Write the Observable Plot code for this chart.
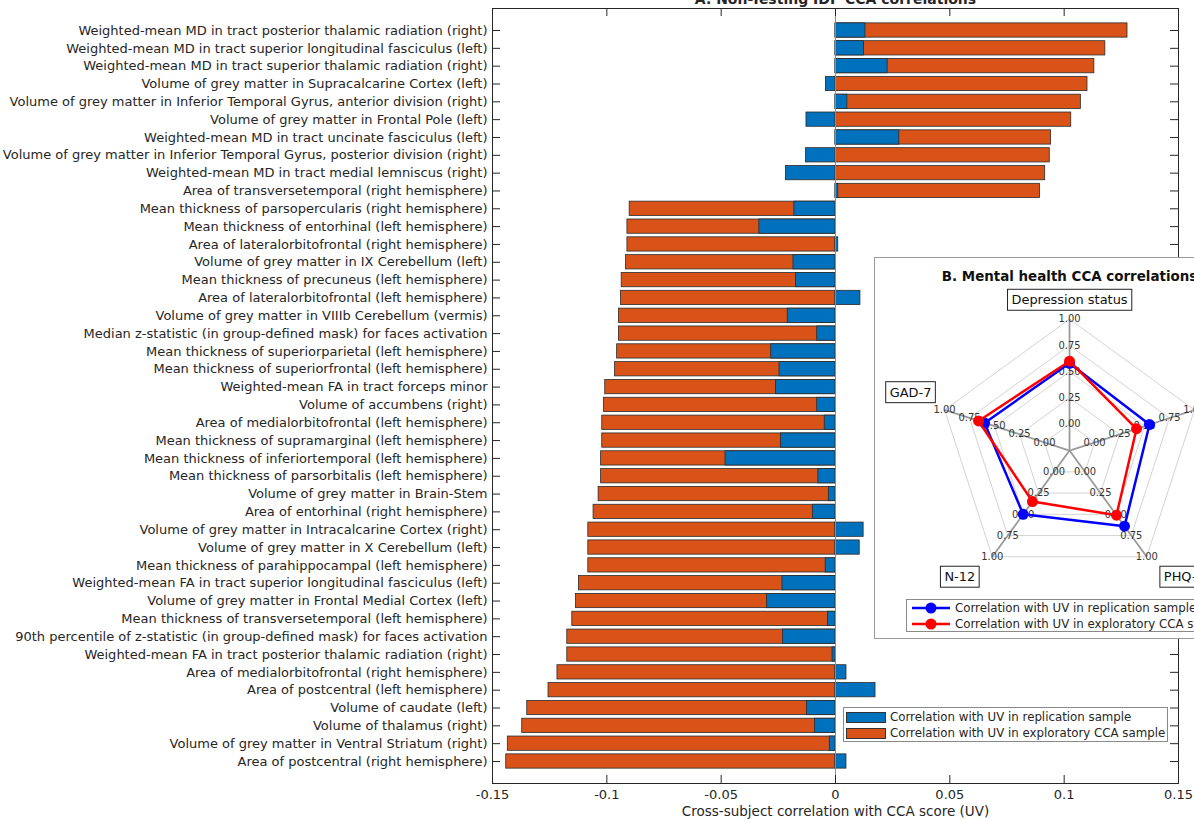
<!DOCTYPE html>
<html>
<head>
<meta charset="utf-8">
<script src="https://cdn.jsdelivr.net/npm/d3@7"></script>
<script src="https://cdn.jsdelivr.net/npm/@observablehq/plot@0.6"></script>
<style>
  html, body { margin: 0; padding: 0; background: #fff; overflow: hidden; }
  #wrap { position: relative; width: 1194px; height: 820px; overflow: hidden; font-family: "DejaVu Sans", sans-serif; color: #262626; }
  #main { position: absolute; left: 0; top: 0; }
  .legend { position: absolute; background: #fff; border: 1px solid #8a8a8a; font-size: 11.8px; line-height: 16px; white-space: nowrap; }
  .legend .row { display: flex; align-items: center; height: 16px; }
  .legend .sw { display: inline-block; margin-right: 4px; flex: none; }
  #legA { left: 843px; top: 707px; width: 325px; height: 35px; box-sizing: border-box; padding: 1px 0 0 2px; }
  #legA .sw { width: 40px; height: 11px; border: 1px solid #333; box-sizing: border-box; margin-right: 4px; }
  #inset { position: absolute; left: 874px; top: 257px; width: 400px; height: 382px; border: 1px solid #9a9a9a; background: #fff; box-sizing: border-box; }
  #radar { position: absolute; left: 0; top: 0; }
  #legB { left: 31px; top: 341px; width: 330px; height: 33px; box-sizing: border-box; padding: 0 0 0 4px; }
</style>
</head>
<body>
<div id="wrap">
  <div id="main"></div>
  <div class="legend" id="legA"></div>
  <div id="inset">
    <div id="radar"></div>
    <div class="legend" id="legB"></div>
  </div>
</div>
<script>
// ---------------- DATA ----------------
const idpNames = [
  "Weighted-mean MD in tract posterior thalamic radiation (right)",
  "Weighted-mean MD in tract superior longitudinal fasciculus (left)",
  "Weighted-mean MD in tract superior thalamic radiation (right)",
  "Volume of grey matter in Supracalcarine Cortex (left)",
  "Volume of grey matter in Inferior Temporal Gyrus, anterior division (right)",
  "Volume of grey matter in Frontal Pole (left)",
  "Weighted-mean MD in tract uncinate fasciculus (left)",
  "Volume of grey matter in Inferior Temporal Gyrus, posterior division (right)",
  "Weighted-mean MD in tract medial lemniscus (right)",
  "Area of transversetemporal (right hemisphere)",
  "Mean thickness of parsopercularis (right hemisphere)",
  "Mean thickness of entorhinal (left hemisphere)",
  "Area of lateralorbitofrontal (right hemisphere)",
  "Volume of grey matter in IX Cerebellum (left)",
  "Mean thickness of precuneus (left hemisphere)",
  "Area of lateralorbitofrontal (left hemisphere)",
  "Volume of grey matter in VIIIb Cerebellum (vermis)",
  "Median z-statistic (in group-defined mask) for faces activation",
  "Mean thickness of superiorparietal (left hemisphere)",
  "Mean thickness of superiorfrontal (left hemisphere)",
  "Weighted-mean FA in tract forceps minor",
  "Volume of accumbens (right)",
  "Area of medialorbitofrontal (left hemisphere)",
  "Mean thickness of supramarginal (left hemisphere)",
  "Mean thickness of inferiortemporal (left hemisphere)",
  "Mean thickness of parsorbitalis (left hemisphere)",
  "Volume of grey matter in Brain-Stem",
  "Area of entorhinal (right hemisphere)",
  "Volume of grey matter in Intracalcarine Cortex (right)",
  "Volume of grey matter in X Cerebellum (left)",
  "Mean thickness of parahippocampal (left hemisphere)",
  "Weighted-mean FA in tract superior longitudinal fasciculus (left)",
  "Volume of grey matter in Frontal Medial Cortex (left)",
  "Mean thickness of transversetemporal (left hemisphere)",
  "90th percentile of z-statistic (in group-defined mask) for faces activation",
  "Weighted-mean FA in tract posterior thalamic radiation (right)",
  "Area of medialorbitofrontal (right hemisphere)",
  "Area of postcentral (left hemisphere)",
  "Volume of caudate (left)",
  "Volume of thalamus (right)",
  "Volume of grey matter in Ventral Striatum (right)",
  "Area of postcentral (right hemisphere)"
];
// Correlation with UV in exploratory CCA sample
const exploratory = [
  0.1277, 0.1180, 0.1132, 0.1102, 0.1073, 0.1031, 0.0943, 0.0937, 0.0917, 0.0894,
  -0.0900, -0.0910, -0.0910, -0.0916, -0.0935, -0.0938, -0.0947, -0.0947, -0.0955, -0.0964,
  -0.1007, -0.1013, -0.1020, -0.1020, -0.1025, -0.1025, -0.1036, -0.1058, -0.1081, -0.1081,
  -0.1081, -0.1122, -0.1135, -0.1151, -0.1173, -0.1173, -0.1216, -0.1255, -0.1348, -0.1370,
  -0.1433, -0.1440
];
// Correlation with UV in replication sample
const replication = [
  0.0131, 0.0125, 0.0228, -0.0042, 0.0052, -0.0127, 0.0279, -0.0129, -0.0217, 0.0012,
  -0.0180, -0.0333, 0.0012, -0.0184, -0.0173, 0.0109, -0.0209, -0.0080, -0.0281, -0.0245,
  -0.0260, -0.0080, -0.0047, -0.0238, -0.0481, -0.0075, -0.0029, -0.0099, 0.0123, 0.0106,
  -0.0043, -0.0232, -0.0299, -0.0033, -0.0230, -0.0013, 0.0048, 0.0175, -0.0125, -0.0090,
  -0.0025, 0.0048
];
const xTicks = [-0.15, -0.1, -0.05, 0, 0.05, 0.1, 0.15];
const xTickLabels = ["-0.15", "-0.1", "-0.05", "0", "0.05", "0.1", "0.15"];

const radarAxes = ["Depression status", "RDS-4", "PHQ-9", "N-12", "GAD-7"];
const radarReplication = [0.58, 0.55, 0.64, 0.50, 0.60];
const radarExploratory = [0.60, 0.42, 0.51, 0.35, 0.66];
const radarTicks = [0, 0.25, 0.5, 0.75, 1];
const radarTickLabels = ["0.00", "0.25", "0.50", "0.75", "1.00"];

const seriesNames = ["Correlation with UV in replication sample", "Correlation with UV in exploratory CCA sample"];
const titleA = "A. Non-Testing IDP CCA correlations";
const titleB = "B. Mental health CCA correlations";
const xLabel = "Cross-subject correlation with CCA score (UV)";

// ---------------- STYLE ----------------
const BLUE = "#0072BD", ORANGE = "#D95319";
const RBLUE = "#0000FF", RRED = "#FF0000";
const FONT = '"DejaVu Sans", sans-serif';
const INK = "#262626";

// ---------------- CHART A ----------------
const rows = idpNames.map((name, i) => ({name, expl: exploratory[i], repl: replication[i]}));
const W = 1194, H = 820, mL = 492, mR = 16, mT = 8, mB = 37;
const fw = W - mL - mR, fh = H - mT - mB, tk = 8;

const chartA = Plot.plot({
  width: W, height: H,
  marginLeft: mL, marginRight: mR, marginTop: mT, marginBottom: mB,
  style: {fontFamily: FONT, fontSize: "13px", color: INK, background: "transparent"},
  x: {domain: [-0.15, 0.15]},
  y: {domain: idpNames, paddingInner: 0.2, paddingOuter: 0.834},
  marks: [
    Plot.barX(rows, {y: "name", x: "expl", fill: ORANGE, stroke: "#2b2b2b", strokeWidth: 0.8}),
    Plot.barX(rows, {y: "name", x: "repl", fill: BLUE, stroke: "#2b2b2b", strokeWidth: 0.8}),
    Plot.ruleX([0], {stroke: "#8c8c8c", strokeWidth: 1}),
    Plot.ruleX(xTicks, {insetTop: fh - tk, stroke: INK}),
    Plot.ruleX(xTicks, {insetBottom: fh - tk, stroke: INK}),
    Plot.tickY(idpNames, {y: d => d, insetRight: fw - tk, stroke: INK}),
    Plot.tickY(idpNames, {y: d => d, insetLeft: fw - tk, stroke: INK}),
    Plot.axisY({tickSize: 0, tickPadding: 5, label: null, fontSize: 13}),
    Plot.axisX({ticks: xTicks, tickSize: 0, tickPadding: 6, label: null, fontSize: 13,
      tickFormat: d => xTickLabels[xTicks.findIndex(t => Math.abs(t - d) < 1e-9)]}),
    Plot.frame({stroke: INK}),
    Plot.text([titleA], {frameAnchor: "top", dy: -9, lineAnchor: "middle", fontWeight: "bold", fontSize: 14}),
    Plot.text([xLabel], {frameAnchor: "bottom", dy: 32, fontSize: 13.5})
  ]
});
document.getElementById("main").appendChild(chartA);

// legend A
const legA = document.getElementById("legA");
[[BLUE, seriesNames[0]], [ORANGE, seriesNames[1]]].forEach(([c, t]) => {
  const r = document.createElement("div");
  r.className = "row";
  r.innerHTML = `<span class="sw" style="background:${c}"></span><span>${t}</span>`;
  legA.appendChild(r);
});

// ---------------- CHART B (radar) ----------------
const RW = 400, RH = 382;
const rad = d3.scaleLinear([0, 1], [26.5, 132]);
const ang = i => (90 - 72 * i) * Math.PI / 180;
const px = (i, v) => rad(v) * Math.cos(ang(i));
const py = (i, v) => rad(v) * Math.sin(ang(i));
const idx = radarAxes.map((_, i) => i);
const closed = [...idx, 0];
const ringPts = radarTicks.flatMap(t => closed.map(i => ({t, i})));
const tickPts = idx.flatMap(i => radarTicks.map((t, k) => ({i, t, k})));
const labR = 146;
const lx = i => labR * Math.cos(ang(i));
const ly = i => labR * Math.sin(ang(i));
const cosA = i => Math.cos(ang(i)), sinA = i => Math.sin(ang(i));
const hAnchor = i => cosA(i) < -0.3 ? "end" : cosA(i) > 0.3 ? "start" : "middle";
const vAnchor = i => sinA(i) > 0.3 ? "bottom" : sinA(i) < -0.3 ? "top" : "middle";
// small nudges mimicking the original label placement
const ldx = i => sinA(i) < -0.3 ? Math.sign(cosA(i)) * 9 : 0;
const ldy = i => sinA(i) < -0.3 ? 4 : (Math.abs(cosA(i)) > 0.3 ? -9 : -1);

const chartB = Plot.plot({
  width: RW, height: RH, margin: 0,
  style: {fontFamily: FONT, color: INK, background: "transparent"},
  x: {domain: [-195, 205], axis: null},
  y: {domain: [-189, 193], axis: null},
  marks: [
    Plot.line(ringPts, {x: d => px(d.i, d.t), y: d => py(d.i, d.t), z: "t", stroke: "#c8c8c8", strokeWidth: 0.8}),
    Plot.link(idx, {x1: 0, y1: 0, x2: i => px(i, 1), y2: i => py(i, 1), stroke: "#9a9a9a", strokeWidth: 1.8}),
    Plot.text(tickPts, {x: d => px(d.i, d.t), y: d => py(d.i, d.t), text: d => radarTickLabels[d.k], fontSize: 10, fill: "#333"}),
    Plot.line(closed, {x: i => px(i, radarReplication[i]), y: i => py(i, radarReplication[i]), stroke: RBLUE, strokeWidth: 2.5}),
    Plot.dot(idx, {x: i => px(i, radarReplication[i]), y: i => py(i, radarReplication[i]), r: 5.5, fill: RBLUE}),
    Plot.line(closed, {x: i => px(i, radarExploratory[i]), y: i => py(i, radarExploratory[i]), stroke: RRED, strokeWidth: 2.5}),
    Plot.dot(idx, {x: i => px(i, radarExploratory[i]), y: i => py(i, radarExploratory[i]), r: 5.5, fill: RRED}),
    ...idx.map(i => Plot.text([radarAxes[i]], {x: lx(i), y: ly(i), dx: ldx(i), dy: ldy(i), textAnchor: hAnchor(i), lineAnchor: vAnchor(i), fontSize: 13, fill: "#111"})),
    Plot.text([titleB], {x: 0, frameAnchor: "top", dy: 13, fontWeight: "bold", fontSize: 13.5, fill: "#111"})
  ]
});
document.getElementById("radar").appendChild(chartB);

// boxes around radar axis labels
const axisSet = new Set(radarAxes);
chartB.querySelectorAll("text").forEach(t => {
  if (!axisSet.has(t.textContent)) return;
  const b = t.getBBox();
  const rect = document.createElementNS("http://www.w3.org/2000/svg", "rect");
  const padX = 4, padY = 3;
  rect.setAttribute("x", b.x - padX);
  rect.setAttribute("y", b.y - padY);
  rect.setAttribute("width", b.width + 2 * padX);
  rect.setAttribute("height", b.height + 2 * padY);
  rect.setAttribute("fill", "#fff");
  rect.setAttribute("stroke", "#222");
  rect.setAttribute("stroke-width", "1");
  const tr = t.getAttribute("transform");
  if (tr) rect.setAttribute("transform", tr);
  t.parentNode.insertBefore(rect, t);
});

// legend B
const legB = document.getElementById("legB");
[[RBLUE, seriesNames[0]], [RRED, seriesNames[1]]].forEach(([c, t]) => {
  const r = document.createElement("div");
  r.className = "row";
  r.innerHTML = `<svg class="sw" width="40" height="14"><line x1="1" y1="7" x2="39" y2="7" stroke="${c}" stroke-width="2.5"/><circle cx="20" cy="7" r="5.5" fill="${c}"/></svg><span>${t}</span>`;
  legB.appendChild(r);
});
</script>
</body>
</html>
